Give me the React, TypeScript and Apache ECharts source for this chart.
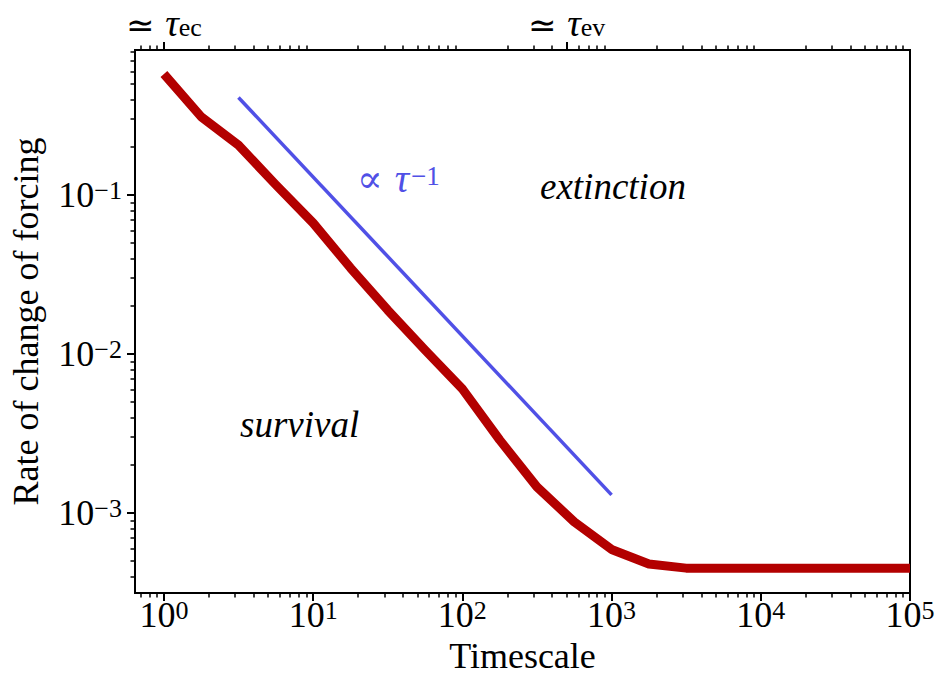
import React, { useEffect, useRef } from 'react';
import * as echarts from 'echarts';

// ---- data ----
const timescale = [1, 1.78, 3.16, 5.62, 10, 17.8, 31.6, 56.2, 100, 178, 316, 562, 1000, 1780, 3160, 5620, 10000, 17800, 31600, 56200, 100000];
const rateThreshold = [0.577, 0.31, 0.206, 0.116, 0.0667, 0.0348, 0.0189, 0.0106, 0.00603, 0.00288, 0.00146, 0.00088, 0.00059, 0.000478, 0.00045, 0.00045, 0.00045, 0.00045, 0.00045, 0.00045, 0.00045];
const guideTimescale = [3.16, 1000];
const guideRate = [0.411, 0.0013];

const xRange = [0.64, 100000];
const yRange = [0.000314, 0.817];
const xMajorTicks = [1, 10, 100, 1000, 10000, 100000];
const yMajorTicks = [0.001, 0.01, 0.1];
const topMajorTicks = [1, 500];
const topTickSubscripts = ['ec', 'ev'];
const minorMultipliers = [2, 3, 4, 5, 6, 7, 8, 9];

const FONT = '"Liberation Serif", "DejaVu Serif", serif';
const SYMFONT = '"DejaVu Sans", "DejaVu Serif", serif';

function minorTicks(lo: number, hi: number, skip: number[] = []): number[] {
  const out: number[] = [];
  for (let k = -6; k <= 6; k++) {
    for (const m of minorMultipliers) {
      const v = Number((m * Math.pow(10, k)).toPrecision(6));
      if (v > lo && v < hi && skip.indexOf(v) < 0) out.push(v);
    }
  }
  return out;
}

const supRich = {
  b: { fontSize: 36, lineHeight: 36, fontFamily: FONT, color: '#000', padding: [8, 0, 0, 0], verticalAlign: 'bottom' },
  s: { fontSize: 26, lineHeight: 26, fontFamily: FONT, color: '#000', verticalAlign: 'top' },
};

function powLabel(v: number): string {
  const e = Math.round(Math.log10(v));
  const es = e < 0 ? '\u2212' + String(-e) : String(e);
  return `{b|10}{s|${es}}`;
}

export default function App() {
  const ref = useRef<HTMLDivElement>(null);
  useEffect(() => {
    if (!ref.current) return;
    const chart = echarts.init(ref.current, null, { renderer: 'svg' });
    const majorTick = (vals: number[]) => ({ show: true, customValues: vals, length: 8, lineStyle: { color: '#000', width: 2 } });
    const minorTickStyle = (vals: number[]) => ({ show: true, customValues: vals, length: 4.5, lineStyle: { color: '#000', width: 1.5 } });
    const baseX = {
      type: 'log', logBase: 10, min: xRange[0], max: xRange[1],
      axisLine: { show: false }, splitLine: { show: false }, minorTick: { show: false }, minorSplitLine: { show: false },
    };
    const baseY = {
      type: 'log', logBase: 10, min: yRange[0], max: yRange[1],
      axisLine: { show: false }, splitLine: { show: false }, minorTick: { show: false }, minorSplitLine: { show: false },
    };
    const blue = '#5050e6';
    const option: any = {
      animation: false,
      backgroundColor: '#fff',
      grid: {
        left: 135, right: 25, top: 50, bottom: 84, show: true, borderColor: '#000', borderWidth: 2,
        backgroundColor: 'transparent', containLabel: false, outerBoundsMode: 'none',
      },
      xAxis: [
        {
          ...baseX, position: 'bottom',
          axisTick: majorTick(xMajorTicks),
          axisLabel: { customValues: xMajorTicks, formatter: powLabel, rich: supRich, margin: 4 },
          name: 'Timescale', nameLocation: 'middle', nameGap: 45,
          nameTextStyle: { fontSize: 36, lineHeight: 36, fontFamily: FONT, color: '#000' },
        },
        {
          ...baseX, position: 'bottom',
          axisTick: minorTickStyle(minorTicks(xRange[0], xRange[1])),
          axisLabel: { show: false },
        },
        {
          ...baseX, position: 'top',
          axisTick: majorTick(topMajorTicks),
          axisLabel: {
            customValues: topMajorTicks,
            margin: 10,
            formatter: (v: number) => {
              const i = topMajorTicks.indexOf(v);
              return `{r|\u2243 }{t|\u03c4}{sub|${topTickSubscripts[i] ?? ''}}`;
            },
            rich: {
              r: { fontSize: 34, lineHeight: 36, fontFamily: SYMFONT, color: '#000', verticalAlign: 'top', padding: [4, 0, 0, 0] },
              t: { fontSize: 38, lineHeight: 36, fontFamily: FONT, fontStyle: 'italic', color: '#000', verticalAlign: 'top' },
              sub: { fontSize: 26, lineHeight: 26, fontFamily: FONT, color: '#000', padding: [15, 0, 0, 0], verticalAlign: 'bottom' },
            },
          },
        },
        {
          ...baseX, position: 'top',
          axisTick: minorTickStyle(minorTicks(xRange[0], xRange[1], topMajorTicks)),
          axisLabel: { show: false },
        },
      ],
      yAxis: [
        {
          ...baseY, position: 'left',
          axisTick: majorTick(yMajorTicks),
          axisLabel: { customValues: yMajorTicks, formatter: powLabel, rich: supRich, margin: 13 },
          name: 'Rate of change of forcing', nameLocation: 'middle', nameGap: 91, nameRotate: 90,
          nameTextStyle: { fontSize: 36, lineHeight: 36, fontFamily: FONT, color: '#000' },
        },
        {
          ...baseY, position: 'left',
          axisTick: minorTickStyle(minorTicks(yRange[0], yRange[1])),
          axisLabel: { show: false },
        },
      ],
      series: [
        {
          type: 'line', xAxisIndex: 0, yAxisIndex: 0, symbol: 'none',
          data: timescale.map((t, i) => [t, rateThreshold[i]]),
          lineStyle: { color: '#b30000', width: 9, cap: 'butt', join: 'round' },
          z: 3,
        },
        {
          type: 'line', xAxisIndex: 0, yAxisIndex: 0, symbol: 'none',
          data: guideTimescale.map((t, i) => [t, guideRate[i]]),
          lineStyle: { color: blue, width: 3.5 },
          z: 2,
        },
      ],
      graphic: [
        {
          type: 'text', x: 540, y: 186,
          style: { text: 'extinction', fontSize: 37, fontFamily: FONT, fontStyle: 'italic', fill: '#000', align: 'left', verticalAlign: 'middle' },
        },
        {
          type: 'text', x: 240, y: 424,
          style: { text: 'survival', fontSize: 37, fontFamily: FONT, fontStyle: 'italic', fill: '#000', align: 'left', verticalAlign: 'middle' },
        },
        {
          type: 'text', x: 357, y: 180,
          style: {
            text: '{p|\u221d }{t|\u03c4}{s|\u22121}',
            fill: blue,
            align: 'left', verticalAlign: 'middle',
            rich: {
              p: { fontSize: 38, lineHeight: 36, fontFamily: '"DejaVu Serif", serif', fill: blue, padding: [8, 0, 0, 0], verticalAlign: 'bottom' },
              t: { fontSize: 40, lineHeight: 36, fontFamily: FONT, fontStyle: 'italic', fill: blue, padding: [8, 2, 0, 0], verticalAlign: 'bottom' },
              s: { fontSize: 27, lineHeight: 27, fontFamily: FONT, fill: blue, verticalAlign: 'top' },
            },
          },
        },
      ],
    };
    chart.setOption(option);
    return () => chart.dispose();
  }, []);
  return <div ref={ref} style={{ position: 'fixed', left: 0, top: 0, width: 935, height: 677 }} />;
}
